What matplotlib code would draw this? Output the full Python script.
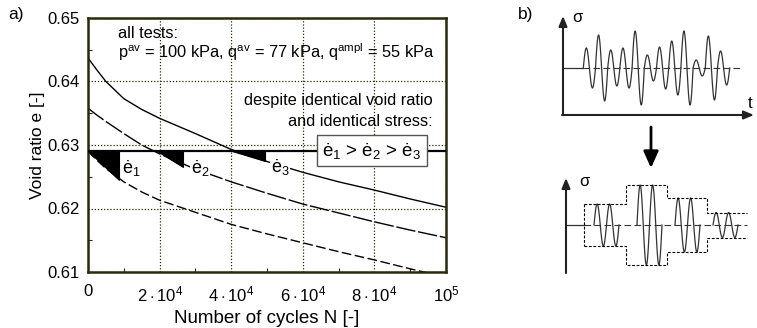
import numpy as np
import matplotlib
matplotlib.use("Agg")
import matplotlib.pyplot as plt
from matplotlib.ticker import FixedLocator, MultipleLocator

plt.rcParams["font.family"] = ["Liberation Sans", "DejaVu Sans"]
plt.rcParams["mathtext.fontset"] = "custom"
plt.rcParams["mathtext.rm"] = "Liberation Sans"
plt.rcParams["mathtext.it"] = "Liberation Sans:italic"

# ---- panel a) data ----
N = [0, 2500, 5000, 10000, 15000, 20000, 30000, 40000, 50000,
     60000, 70000, 80000, 90000, 100000]
e_solid = [0.6437, 0.6418, 0.6400, 0.6373, 0.6356, 0.6342, 0.6318, 0.6293,
           0.6274, 0.6257, 0.6242, 0.6229, 0.6215, 0.6202]
e_long = [0.6358, 0.6347, 0.6337, 0.6318, 0.6300, 0.6286, 0.6262, 0.6242,
          0.6224, 0.6207, 0.6193, 0.6179, 0.6166, 0.6154]
e_short = [0.6290, 0.6276, 0.6263, 0.6242, 0.6226, 0.6213, 0.6194, 0.6175,
           0.6160, 0.6146, 0.6132, 0.6119, 0.6105, 0.6092]

E_REF = 0.629                       # identical void ratio
tri_N0 = [0, 19300, 40200]          # triangle start (N)
tri_N1 = [8700, 26500, 49400]       # triangle end (N)
tri_e1 = [0.6245, 0.6265, 0.6275]   # triangle lower corner (e)
rate_labels = ["ė$_1$", "ė$_2$", "ė$_3$"]
label_N = [12000, 31300, 53600]
label_e = [0.6264, 0.6264, 0.6266]

xticks = [0, 2e4, 4e4, 6e4, 8e4, 1e5]
xticklabels = ["0", r"$2\cdot10^4$", r"$4\cdot10^4$", r"$6\cdot10^4$",
               r"$8\cdot10^4$", r"$10^5$"]
yticks = [0.61, 0.62, 0.63, 0.64, 0.65]

# ---- panel b) schematic data (pixel units) ----
top_amps = [20, 33, 18, 20, 37, 13, 21, 27, 37, 8, 32, 17]
block_edges = [584, 626, 667, 707, 747]
block_amps = [21, 40, 27, 12.5]
block_wave_start = [594, 637, 675, 713]

OLIVE = "#2b2b0c"
W, H = 757, 328
fig = plt.figure(figsize=(W / 100, H / 100), dpi=100)
ax = fig.add_axes([88 / W, 1 - 272 / H, 358 / W, 254 / H])

ax.plot(N, e_solid, color="black", lw=1.0)
ax.plot(N, e_long, color="black", lw=1.0, dashes=(14, 2))
ax.plot(N, e_short, color="black", lw=1.0, dashes=(7, 2.5))

ax.axhline(E_REF, color="black", lw=1.6, zorder=3)
for n0, n1, e1 in zip(tri_N0, tri_N1, tri_e1):
    ax.fill([n0, n1, n1], [E_REF, E_REF, e1], fc="black", ec="black",
            lw=0.8, zorder=7)
for lab, n, e in zip(rate_labels, label_N, label_e):
    ax.text(n, e, lab, fontsize=13, ha="center", va="center", zorder=5,
            bbox=dict(fc="white", ec="none", pad=0.3))

TXT = 11.8
ax.text(0.084, 0.94, "all tests:", transform=ax.transAxes, fontsize=TXT,
        va="center")
ax.text(0.084, 0.866, r"p$^{\mathrm{av}}$ = 100 kPa, q$^{\mathrm{av}}$ = 77 kPa, "
        r"q$^{\mathrm{ampl}}$ = 55 kPa", transform=ax.transAxes, fontsize=TXT,
        va="center")
ax.text(0.964, 0.677, "despite identical void ratio", transform=ax.transAxes,
        fontsize=TXT, ha="right", va="center")
ax.text(0.964, 0.591, "and identical stress:", transform=ax.transAxes,
        fontsize=TXT, ha="right", va="center")
ax.text(79300, 0.6291, "ė$_1$ > ė$_2$ > ė$_3$", fontsize=13.5, ha="center",
        va="center", zorder=6,
        bbox=dict(fc="white", ec="#555555", lw=1.0, pad=4))

ax.set_xlim(0, 1e5)
ax.set_ylim(0.61, 0.65)
ax.xaxis.set_major_locator(FixedLocator(xticks))
ax.set_xticklabels(xticklabels)
ax.xaxis.set_minor_locator(MultipleLocator(1e4))
ax.yaxis.set_major_locator(FixedLocator(yticks))
ax.set_yticklabels(["%.2f" % v for v in yticks])
ax.yaxis.set_minor_locator(MultipleLocator(0.005))
ax.tick_params(which="both", direction="in", color=OLIVE, labelsize=12)
ax.tick_params(which="major", length=0, pad=6)
ax.tick_params(which="minor", length=3, width=0.8)
ax.tick_params(axis="x", which="major", pad=9)
ax.grid(True, which="major", color=OLIVE, ls=(0, (1, 1.5)), lw=0.9)
for s in ax.spines.values():
    s.set_color(OLIVE)
    s.set_linewidth(1.8)
ax.set_xlabel("Number of cycles N [-]", fontsize=13.5, labelpad=4)
ax.set_ylabel("Void ratio e [-]", fontsize=12.5, labelpad=2)

fig.text(8 / W, 1 - 14 / H, "a)", fontsize=12.5, va="center")

# ---- panel b) ----
bx = fig.add_axes([500 / W, 0, 257 / W, 1])
bx.set_xlim(500, 757)
bx.set_ylim(328, 0)
bx.axis("off")

WAVE = "#333333"
arrow = dict(arrowstyle="-|>,head_width=0.25,head_length=0.6", lw=1.5,
             color="#222222", shrinkA=0, shrinkB=0)

# top: irregular cyclic loading
y0, x0, per = 68, 583.3, 12.2
bx.annotate("", xy=(563, 16), xytext=(563, 115), arrowprops=arrow)
bx.annotate("", xy=(754, 115), xytext=(562, 115), arrowprops=arrow)
bx.text(572, 17, "σ", fontsize=12, va="center")
bx.text(748, 103, "t", fontsize=12, va="center")
bx.plot([563, x0], [y0, y0], color=WAVE, lw=0.9)
bx.plot([x0, 742], [y0, y0], color=WAVE, lw=0.8, dashes=(6, 3))
for i, a in enumerate(top_amps):
    t = np.linspace(0, 1, 60)
    bx.plot(x0 + (i + t) * per, y0 - a * np.sin(2 * np.pi * t), color=WAVE,
            lw=0.9)

# down arrow
bx.annotate("", xy=(651, 168), xytext=(651, 127),
            arrowprops=dict(arrowstyle="-|>,head_width=0.45,head_length=1.0",
                            lw=2, color="black", shrinkA=0, shrinkB=0))

# bottom: packages of constant amplitude
y1 = 225
bx.annotate("", xy=(566, 178), xytext=(566, 273), arrowprops=arrow)
bx.annotate("", xy=(760, 273), xytext=(565, 273), arrowprops=arrow)
bx.text(579, 181, "σ", fontsize=12, va="center")
bx.plot([566, block_edges[0]], [y1, y1], color=WAVE, lw=0.9)
bx.plot([block_edges[0], block_edges[-1]], [y1, y1], color=WAVE, lw=0.8,
        dashes=(6, 3))
top_x, top_y, bot_y = [], [], []
for k, a in enumerate(block_amps):
    top_x += [block_edges[k], block_edges[k + 1]]
    top_y += [y1 - a, y1 - a]
    bot_y += [y1 + a, y1 + a]
    t = np.linspace(0, 2, 120)
    xs = block_wave_start[k] + t * 12.5
    bx.plot(xs, y1 - a * np.sin(2 * np.pi * t), color=WAVE, lw=0.9)
env = dict(color="black", lw=0.8, dashes=(2.5, 1.5))
bx.plot(top_x, top_y, **env)
bx.plot(top_x, bot_y, **env)
bx.plot([block_edges[0]] * 2, [y1 - block_amps[0], y1 + block_amps[0]], **env)

fig.text(518 / W, 1 - 15 / H, "b)", fontsize=12.5, va="center")

fig.savefig("out.png", dpi=100)
